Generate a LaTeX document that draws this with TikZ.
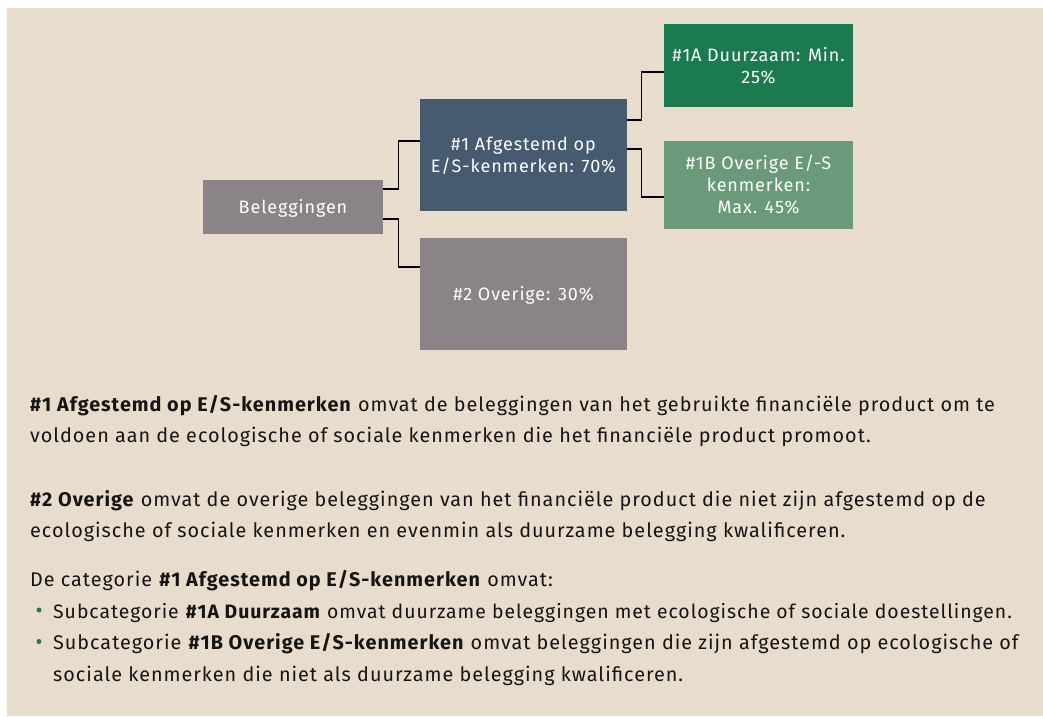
\documentclass[tikz,border=0pt]{standalone}
\usepackage{fontspec}
\setmainfont[LetterSpace=5]{Fira Sans}
\definecolor{bgbeige}{HTML}{E8DCCC}
\definecolor{boxgray}{HTML}{8A8387}
\definecolor{boxblue}{HTML}{465A70}
\definecolor{boxgreen}{HTML}{1B7A50}
\definecolor{boxlgreen}{HTML}{6A9A7A}
\definecolor{txt}{HTML}{151515}
\newcommand\bxt[1]{\raisebox{-2.5pt}[\height][\depth]{\begin{tabular}{@{}c@{}}#1\end{tabular}}}
\begin{document}
\begin{tikzpicture}[x=1pt,y=-1pt,
  box/.style={inner sep=0pt, text=white, font=\fontsize{18}{22}\selectfont},
  conn/.style={draw=black, line width=1.3pt},
  body/.style={anchor=base west, inner sep=0pt, text=txt, font=\fontsize{19.8}{24}\selectfont},
  dot/.style={circle, fill=boxgreen, inner sep=0pt, minimum size=5pt}]
\useasboundingbox (0,0) rectangle (1043,716);
\fill[white] (0,0) rectangle (1043,716);
\fill[bgbeige] (7,8) rectangle (1043,716);

\node[box, fill=boxgray, minimum width=180pt, minimum height=54pt] (bel) at (293,207) {\bxt{Beleggingen}};
\node[box, fill=boxblue, minimum width=207pt, minimum height=112pt] (a1) at (523.5,155) {\bxt{\#1 Afgestemd op\\E/S-kenmerken: 70\%}};
\node[box, fill=boxgray, minimum width=207pt, minimum height=112pt] (a2) at (523.5,294) {\bxt{\#2 Overige: 30\%}};
\node[box, fill=boxgreen, minimum width=189pt, minimum height=83pt] (b1) at (758.5,65.5) {\bxt{\#1A Duurzaam: Min.\\25\%}};
\node[box, fill=boxlgreen, minimum width=189pt, minimum height=88pt] (b2) at (758.5,185) {\bxt{\#1B Overige E/-S\\kenmerken:\\Max. 45\%}};

\draw[conn] ([yshift=18pt]bel.east) -- ++(15,0) |- ([yshift=14pt]a1.west);
\draw[conn] ([yshift=-12pt]bel.east) -- ++(15,0) |- ([yshift=27pt]a2.west);
\draw[conn] ([yshift=35pt]a1.east) -- ++(14,0) |- ([yshift=-6.5pt]b1.west);
\draw[conn] ([yshift=6pt]a1.east) -- ++(14,0) |- ([yshift=-12pt]b2.west);

\node[body] (l1) at (30,411) {\textbf{\#1 Afgestemd op E/S-kenmerken} omvat de beleggingen van het gebruikte financiële product om te};
\node[body] (l2) at (30,442) {voldoen aan de ecologische of sociale kenmerken die het financiële product promoot.};
\node[body] (l3) at (30,506) {\textbf{\#2 Overige} omvat de overige beleggingen van het financiële product die niet zijn afgestemd op de};
\node[body] (l4) at (30,537) {ecologische of sociale kenmerken en evenmin als duurzame belegging kwalificeren.};
\node[body] (l5) at (30,586) {De categorie \textbf{\#1 Afgestemd op E/S-kenmerken} omvat:};
\node[dot] (d1) at (39,610) {};
\node[body, font=\fontsize{19.4}{24}\selectfont] (l6) at (53,618) {Subcategorie \textbf{\#1A Duurzaam} omvat duurzame beleggingen met ecologische of sociale doestellingen.};
\node[dot] (d2) at (39,641.5) {};
\node[body] (l7) at (53,649.5) {Subcategorie \textbf{\#1B Overige E/S-kenmerken} omvat beleggingen die zijn afgestemd op ecologische of};
\node[body] (l8) at (53,681) {sociale kenmerken die niet als duurzame belegging kwalificeren.};
\end{tikzpicture}
\end{document}
